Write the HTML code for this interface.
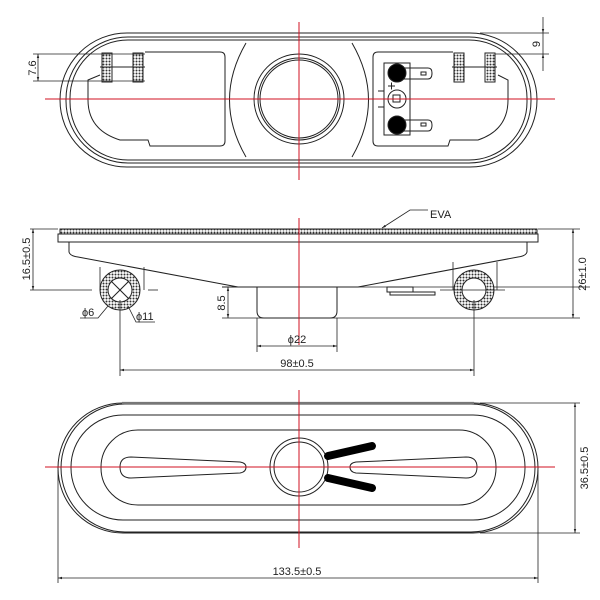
<!DOCTYPE html>
<html><head><meta charset="utf-8"><style>
html,body{margin:0;padding:0;background:#fff}
svg{display:block}
text{font-family:"Liberation Sans",sans-serif;font-size:11px;fill:#222}
</style></head><body>
<svg width="600" height="600" viewBox="0 0 600 600" xmlns="http://www.w3.org/2000/svg">
<defs>
<pattern id="hx" width="3" height="3" patternUnits="userSpaceOnUse"><rect width="3" height="3" fill="#fff"/><circle cx="1.5" cy="1.5" r="1" fill="#333"/></pattern>
<marker id="ar" viewBox="0 0 10 10" refX="10" refY="5" markerWidth="7" markerHeight="5" orient="auto-start-reverse"><path d="M0,2 L10,5 L0,8z" fill="#222"/></marker>
</defs>
<g fill="none" stroke="#222" stroke-width="1">
<rect x="60" y="33" width="477" height="134" rx="67" ry="67"/>
<rect x="66" y="37" width="465" height="126" rx="62" ry="62"/>
<rect x="70" y="40" width="457" height="120" rx="58" ry="58"/>
<path d="M246,43 Q213,100 246,157"/>
<path d="M352,43 Q385,100 352,157"/>
<path d="M145,52 L220,52 Q225,52 225,57 L225,141 Q225,146 220,146 L150,146 L148,140 L120,140 Q88,130 88,100 L88,80 L100,75"/>
<path d="M453,52 L378,52 Q373,52 373,57 L373,141 Q373,146 378,146 L448,146 L450,140 L478,140 Q508,130 508,100 L508,80 L498,75"/>
<circle cx="299" cy="99" r="45"/>
<circle cx="299" cy="99" r="41"/>
<circle cx="299" cy="99" r="39"/>
<rect x="102" y="53" width="10" height="29" fill="url(#hx)"/>
<rect x="133" y="53" width="10" height="29" fill="url(#hx)"/>
<rect x="454" y="53" width="10" height="29" fill="url(#hx)"/>
<rect x="485" y="53" width="10" height="29" fill="url(#hx)"/>
<line x1="100" y1="67" x2="145" y2="67"/><line x1="452" y1="67" x2="497" y2="67"/>
<rect x="384" y="63" width="26" height="72"/>
<path d="M397,68 L428,68 Q432,68 432,73 Q432,79 428,79 L397,79"/>
<path d="M397,120 L428,120 Q432,120 432,125 Q432,131 428,131 L397,131"/>
<rect x="421" y="72" width="5" height="3"/><rect x="421" y="123" width="5" height="3"/>
<circle cx="397" cy="73" r="9" fill="#000"/>
<circle cx="397" cy="125" r="9" fill="#000"/>
<circle cx="397" cy="99" r="9"/><rect x="393" y="95" width="7" height="7"/>
<line x1="378" y1="91" x2="384" y2="91"/><line x1="378" y1="107" x2="384" y2="107"/>
<line x1="388" y1="86" x2="395" y2="86"/><line x1="391.5" y1="82.5" x2="391.5" y2="89.5"/>
<line x1="33" y1="54" x2="145" y2="54" stroke-width=".8"/>
<line x1="33" y1="81" x2="145" y2="81" stroke-width=".8"/>
<line x1="38" y1="54" x2="38" y2="81" marker-start="url(#ar)" marker-end="url(#ar)" stroke-width=".8"/>
<line x1="480" y1="33" x2="549" y2="33" stroke-width=".8"/>
<line x1="495" y1="54" x2="549" y2="54" stroke-width=".8"/>
<line x1="543" y1="17" x2="543" y2="33" marker-end="url(#ar)" stroke-width=".8"/>
<line x1="543" y1="71" x2="543" y2="54" marker-end="url(#ar)" stroke-width=".8"/>
<line x1="543" y1="33" x2="543" y2="54" stroke-width=".8"/>
<rect x="60" y="229" width="477" height="5" fill="url(#hx)"/>
<rect x="58" y="234" width="480" height="8"/>
<path d="M69,242 L69,252 Q70,256 78,257 L238,287 L358,287 L518,257 Q526,256 527,252 L527,242"/>
<path d="M238,287 L590,287" stroke-width=".8"/>
<path d="M222,287 L238,287"/>
<path d="M257,287 L257,311 Q257,318 264,318 L330,318 Q337,318 337,311 L337,287"/>
<line x1="222" y1="318" x2="580" y2="318" stroke-width=".8"/>
<rect x="387" y="287" width="26" height="5"/><rect x="390" y="292" width="45" height="3"/>
<line x1="100" y1="267" x2="100" y2="290" stroke-width=".8"/><line x1="144" y1="267" x2="144" y2="290" stroke-width=".8"/>
<line x1="453" y1="262" x2="453" y2="290" stroke-width=".8"/><line x1="497" y1="262" x2="497" y2="290" stroke-width=".8"/>
<circle cx="120" cy="290" r="20" fill="url(#hx)"/><circle cx="120" cy="290" r="12" fill="#fff"/>
<circle cx="474" cy="290" r="20" fill="url(#hx)"/><circle cx="474" cy="290" r="12" fill="#fff"/>
<line x1="111" y1="281" x2="129" y2="299"/><line x1="129" y1="281" x2="111" y2="299"/>
<line x1="30" y1="290" x2="92" y2="290" stroke-width=".8"/><line x1="148" y1="290" x2="158" y2="290" stroke-width=".8"/>
<line x1="440" y1="290" x2="505" y2="290" stroke-width=".8"/>
<line x1="30" y1="229" x2="58" y2="229" stroke-width=".8"/><line x1="538" y1="229" x2="580" y2="229" stroke-width=".8"/>
<line x1="33" y1="229" x2="33" y2="290" marker-start="url(#ar)" marker-end="url(#ar)" stroke-width=".8"/>
<line x1="573" y1="229" x2="573" y2="318" marker-start="url(#ar)" marker-end="url(#ar)" stroke-width=".8"/>
<line x1="228" y1="287" x2="228" y2="318" marker-start="url(#ar)" marker-end="url(#ar)" stroke-width=".8"/>
<line x1="257" y1="318" x2="257" y2="352" stroke-width=".8"/><line x1="337" y1="318" x2="337" y2="352" stroke-width=".8"/>
<line x1="257" y1="346" x2="337" y2="346" marker-start="url(#ar)" marker-end="url(#ar)" stroke-width=".8"/>
<line x1="120" y1="300" x2="120" y2="376" stroke-width=".8"/><line x1="474" y1="300" x2="474" y2="376" stroke-width=".8"/>
<line x1="120" y1="370" x2="474" y2="370" marker-start="url(#ar)" marker-end="url(#ar)" stroke-width=".8"/>
<path d="M428,210 L410,210 L382,228" marker-end="url(#ar)" stroke-width=".8"/>
<path d="M80,318 L98,318 L108,306" stroke-width=".8"/>
<path d="M155,322 L136,322 L128,306" stroke-width=".8"/>
<rect x="58" y="403" width="480" height="130" rx="65" ry="65"/>
<rect x="61" y="404" width="474" height="128" rx="64" ry="64"/>
<line x1="122" y1="403" x2="474" y2="403" stroke-width="2.2" stroke="#777"/>
<rect x="71" y="415" width="454" height="105" rx="52" ry="52"/>
<rect x="101" y="430" width="395" height="75" rx="37" ry="37"/>
<path d="M131,457 L240,462 Q246,463 246,467 Q246,472 240,473 L131,478 Q120,478 120,467 Q120,457 131,457z"/>
<path d="M466,457 L356,462 Q350,463 350,467 Q350,472 356,473 L466,478 Q477,478 477,467 Q477,457 466,457z"/>
<circle cx="299" cy="467" r="29"/><circle cx="299" cy="467" r="25"/>
<line x1="328" y1="456" x2="372" y2="446" stroke="#000" stroke-width="8" stroke-linecap="round"/>
<line x1="328" y1="478" x2="372" y2="488" stroke="#000" stroke-width="8" stroke-linecap="round"/>
<line x1="480" y1="403" x2="580" y2="403" stroke-width=".8"/><line x1="480" y1="533" x2="580" y2="533" stroke-width=".8"/>
<line x1="575" y1="403" x2="575" y2="533" marker-start="url(#ar)" marker-end="url(#ar)" stroke-width=".8"/>
<line x1="58" y1="470" x2="58" y2="583" stroke-width=".8"/><line x1="538" y1="470" x2="538" y2="583" stroke-width=".8"/>
<line x1="58" y1="578" x2="538" y2="578" marker-start="url(#ar)" marker-end="url(#ar)" stroke-width=".8"/>
</g>
<g stroke="#d01020" stroke-width="1">
<line x1="299" y1="22" x2="299" y2="180"/><line x1="45" y1="99" x2="555" y2="99"/>
<line x1="299" y1="218" x2="299" y2="345"/>
<line x1="299" y1="390" x2="299" y2="548"/><line x1="45" y1="467" x2="555" y2="467"/>
</g>
<g>
<text transform="translate(36,68) rotate(-90)" text-anchor="middle">7.6</text>
<text transform="translate(540,44) rotate(-90)" text-anchor="middle">9</text>
<text x="430" y="218">EVA</text>
<text transform="translate(30,259) rotate(-90)" text-anchor="middle">16.5±0.5</text>
<text transform="translate(586,274) rotate(-90)" text-anchor="middle">26±1.0</text>
<text transform="translate(225,303) rotate(-90)" text-anchor="middle">8.5</text>
<text x="82" y="316">ϕ6</text>
<text x="136" y="320">ϕ11</text>
<text x="297" y="343" text-anchor="middle">ϕ22</text>
<text x="297" y="367" text-anchor="middle">98±0.5</text>
<text transform="translate(588,468) rotate(-90)" text-anchor="middle">36.5±0.5</text>
<text x="297" y="575" text-anchor="middle">133.5±0.5</text>
</g>
</svg>
</body></html>
